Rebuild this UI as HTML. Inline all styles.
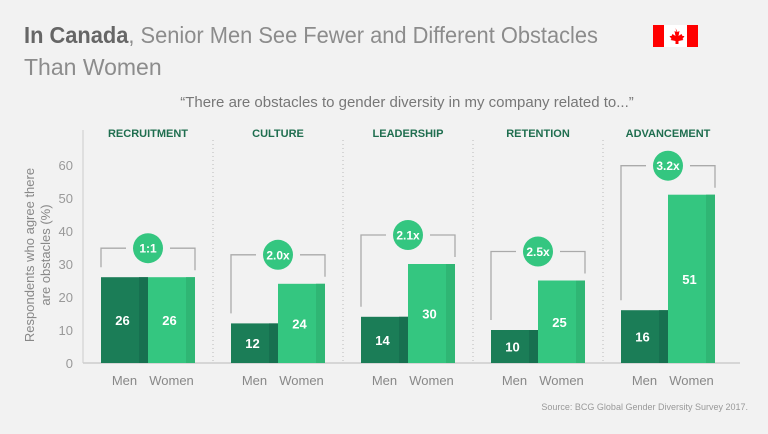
<!DOCTYPE html>
<html><head><meta charset="utf-8"><style>
html,body{margin:0;padding:0;background:#f2f2f2;}
svg{display:block;font-family:"Liberation Sans",sans-serif;}
</style></head><body>
<svg id="chart" width="768" height="434" viewBox="0 0 768 434">
<rect width="768" height="434" fill="#f2f2f2"/>
<text x="24" y="43" font-size="23" fill="#8c8c8c" textLength="574" lengthAdjust="spacingAndGlyphs"><tspan font-weight="bold" fill="#666">In Canada</tspan>, Senior Men See Fewer and Different Obstacles</text>
<text x="24" y="75" font-size="23" fill="#8c8c8c">Than Women</text>
<g>
<rect x="653" y="25" width="45" height="22" fill="#fff"/>
<rect x="653" y="25" width="11" height="22" fill="#f00"/>
<rect x="687" y="25" width="11" height="22" fill="#f00"/>
<path d="M675.5 28 l2 4 2-1 -1 5 3-2 1 2 2 0 -2 3 1 1 -5 1 0 3 -3 0 0-3 -5-1 1-1 -2-3 2 0 1-2 3 2 -1-5 2 1z" fill="#f00"/>
</g>
<text x="407" y="107" font-size="15" fill="#777" text-anchor="middle">“There are obstacles to gender diversity in my company related to...”</text>
<g id="axes"></g>
<g id="marks"></g>
<text x="748" y="410" font-size="9" fill="#999" text-anchor="end">Source: BCG Global Gender Diversity Survey 2017.</text>
</svg>
<script>
const categories = ["RECRUITMENT","CULTURE","LEADERSHIP","RETENTION","ADVANCEMENT"];
const menValues = [26,12,14,10,16];
const womenValues = [26,24,30,25,51];
const ratioLabels = ["1:1","2.0x","2.1x","2.5x","3.2x"];
const yTicks = [0,10,20,30,40,50,60];

const NS="http://www.w3.org/2000/svg";
const y0=363, pxPer=3.3, x0=83, groupW=130, firstBar=101, barW=47;
const yScale=v=>y0-v*pxPer;
const groupX=i=>firstBar+i*groupW;
function mk(parent,tag,attrs,txt){const e=document.createElementNS(NS,tag);for(const k in attrs)e.setAttribute(k,attrs[k]);if(txt!==undefined)e.textContent=txt;parent.appendChild(e);return e;}
const axes=document.getElementById('axes'), marks=document.getElementById('marks');

let e=mk(axes,'line',{x1:x0,y1:130,x2:x0,y2:y0,stroke:'#ccc','stroke-width':1});


e=mk(axes,'line',{x1:x0,y1:y0,x2:740,y2:y0,stroke:'#ccc','stroke-width':1.5});


yTicks.forEach(t=>{
  const l=mk(axes,'text',{x:73,y:yScale(t)+5,'font-size':13,fill:'#999','text-anchor':'end'},String(t));
  
  
});
e=mk(axes,'text',{transform:'translate(34,255) rotate(-90)','font-size':13,fill:'#888','text-anchor':'middle'},'Respondents who agree there');


e=mk(axes,'text',{transform:'translate(50,255) rotate(-90)','font-size':13,fill:'#888','text-anchor':'middle'},'are obstacles (%)');



categories.forEach((c,i)=>{
  const gx=groupX(i), cx=gx+barW;
  if(i>0){
    const s=mk(axes,'line',{x1:gx-controlSep(),y1:140,x2:gx-controlSep(),y2:y0,stroke:'#bbb','stroke-dasharray':'1 3'});
    
    
  }
  const h=mk(axes,'text',{x:cx,y:137,'font-size':11,'font-weight':'bold',fill:'#1f6e4f','text-anchor':'middle'},c);
  
  
  const mv=menValues[i], wv=womenValues[i];
  // men bar
  const mb=mk(marks,'rect',{x:gx,y:yScale(mv),width:barW,height:mv*pxPer,fill:'#1b7d57'});
  
  
  e=mk(marks,'rect',{x:gx+barW-9,y:yScale(mv),width:9,height:mv*pxPer,fill:'#177050'});
  
  
  const wb=mk(marks,'rect',{x:gx+barW,y:yScale(wv),width:barW,height:wv*pxPer,fill:'#34c680'});
  
  
  e=mk(marks,'rect',{x:gx+2*barW-9,y:yScale(wv),width:9,height:wv*pxPer,fill:'#2fb674'});
  
  
  e=mk(marks,'text',{x:gx+barW/2-2,y:(yScale(mv)+y0)/2+5,'font-size':13,'font-weight':'bold',fill:'#fff','text-anchor':'middle'},String(mv));
  
  
  e=mk(marks,'text',{x:gx+barW*1.5-2,y:(yScale(wv)+y0)/2+5,'font-size':13,'font-weight':'bold',fill:'#fff','text-anchor':'middle'},String(wv));
  
  
  // bracket
  const top=Math.max(mv,wv), by=yScale(top)-29;
  e=mk(marks,'path',{d:`M${gx} ${yScale(mv)-10} V${by} H${cx-22} M${cx+22} ${by} H${gx+2*barW} V${yScale(wv)-7}`,fill:'none',stroke:'#aaa','stroke-width':1.3});
  
  
  e=mk(marks,'circle',{cx:cx,cy:by,r:15,fill:'#34c680'});
  
  
  e=mk(marks,'text',{x:cx,y:by+4.5,'font-size':12,'font-weight':'bold',fill:'#fff','text-anchor':'middle'},ratioLabels[i]);
  
  
  e=mk(axes,'text',{x:gx+barW/2,y:385,'font-size':13,fill:'#888','text-anchor':'middle'},'Men');
  
  
  e=mk(axes,'text',{x:gx+barW*1.5,y:385,'font-size':13,fill:'#888','text-anchor':'middle'},'Women');
  
  
});
function controlSep(){return 18;}
</script>
</body></html>
